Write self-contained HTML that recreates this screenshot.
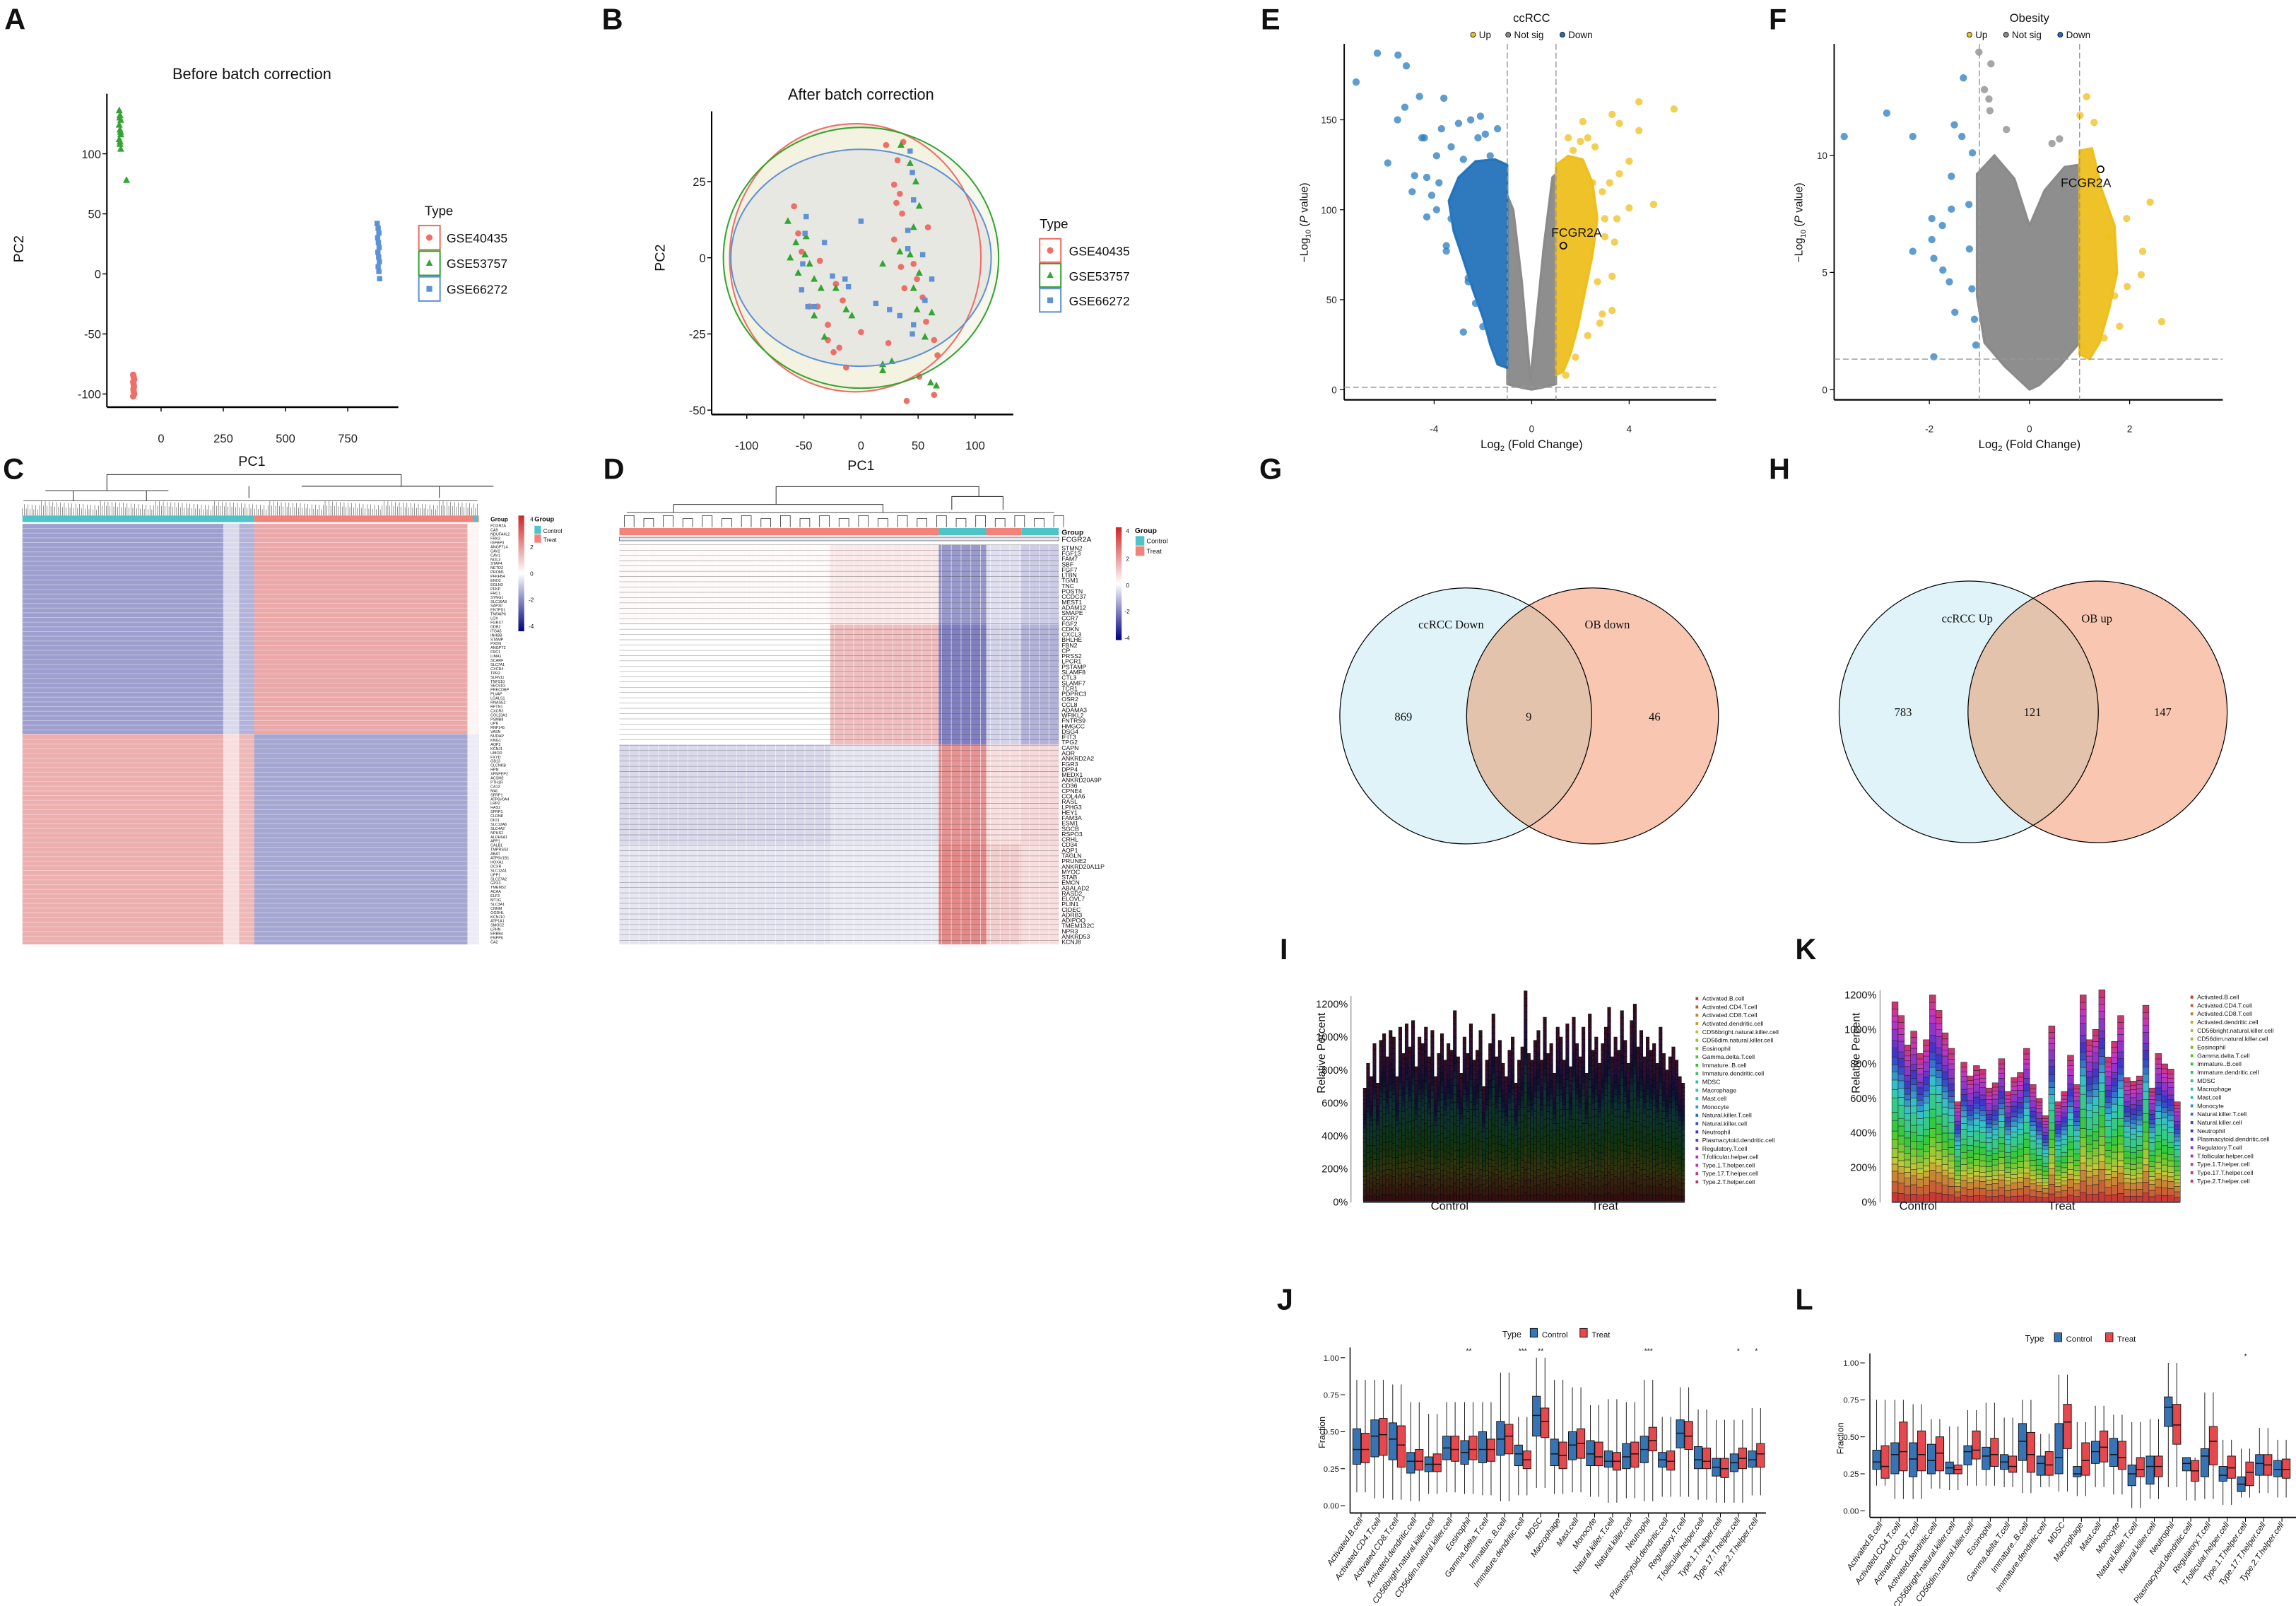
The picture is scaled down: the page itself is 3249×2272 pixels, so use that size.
<!DOCTYPE html>
<html><head><meta charset="utf-8"><title>Multi-panel figure</title>
<style>
html,body{margin:0;padding:0;background:#fff;}
svg{display:block;}
text{font-family:"Liberation Sans Narrow","Liberation Sans",sans-serif;fill:#111;}
.pl{font-weight:bold;font-size:20px;}
.tk{font-size:8px;fill:#222;}
.sm{font-size:6.5px;fill:#222;}
.vn{font-family:"Liberation Serif",serif;font-size:8px;}
</style></head>
<body>
<svg id="fig" xmlns="http://www.w3.org/2000/svg" width="3249" height="2272" viewBox="0 0 1568 1096.5">
<rect x="0" y="0" width="1568" height="1096.5" fill="#fff"/>
<defs>
 <linearGradient id="cbar" x1="0" y1="0" x2="0" y2="1"><stop offset="0" stop-color="#cd2626"/><stop offset="0.5" stop-color="#ffffff"/><stop offset="1" stop-color="#000080"/></linearGradient>
 <clipPath id="clipG"><ellipse cx="1001" cy="488.8" rx="86" ry="87.4"/></clipPath>
 <clipPath id="clipH"><ellipse cx="1344.5" cy="486" rx="88.5" ry="89.3"/></clipPath>
</defs>

<text class="pl" x="3" y="20">A</text>
<text class="pl" x="411" y="20">B</text>
<text class="pl" x="2" y="327">C</text>
<text class="pl" x="412" y="327">D</text>
<text class="pl" x="861" y="20">E</text>
<text class="pl" x="1208" y="20">F</text>
<text class="pl" x="860" y="327">G</text>
<text class="pl" x="1208" y="327">H</text>
<text class="pl" x="874" y="655">I</text>
<text class="pl" x="1226" y="655">K</text>
<text class="pl" x="872" y="894">J</text>
<text class="pl" x="1226" y="894">L</text>

<g id="pA">
 <text x="172" y="54" font-size="10.5" text-anchor="middle">Before batch correction</text>
 <line x1="73" y1="64" x2="73" y2="278" stroke="#000" stroke-width="1"/>
 <line x1="73" y1="278" x2="272" y2="278" stroke="#000" stroke-width="1.2"/>
 <text x="172" y="318" font-size="9.5" text-anchor="middle">PC1</text>
 <text transform="translate(16,170) rotate(-90)" font-size="9.5" text-anchor="middle">PC2</text>
 <text x="290" y="147" font-size="9">Type</text>
</g>
<g id="pB">
 <text x="588" y="68" font-size="10.5" text-anchor="middle">After batch correction</text>
 <line x1="486" y1="76" x2="486" y2="283" stroke="#000" stroke-width="1"/>
 <line x1="486" y1="283" x2="692" y2="283" stroke="#000" stroke-width="1.2"/>
 <text x="588" y="321" font-size="9.5" text-anchor="middle">PC1</text>
 <text transform="translate(454,176) rotate(-90)" font-size="9.5" text-anchor="middle">PC2</text>
 <text x="710" y="156" font-size="9">Type</text>
</g>

<g id="pC">
 <rect x="354" y="352" width="4" height="79" fill="url(#cbar)"/>
 <text x="362" y="356" font-size="4">4</text>
 <text x="362" y="375" font-size="4">2</text>
 <text x="362" y="393" font-size="4">0</text>
 <text x="361" y="411" font-size="4">-2</text>
 <text x="361" y="429" font-size="4">-4</text>
 <text x="365" y="356" font-size="4.5" font-weight="bold">Group</text>
 <rect x="365" y="359" width="4.5" height="5.5" fill="#4fc3c8"/>
 <rect x="365" y="365" width="4.5" height="5.5" fill="#f2837b"/>
 <text x="371" y="364" font-size="4">Control</text>
 <text x="371" y="370" font-size="4">Treat</text>
 <text x="335" y="356" font-size="4" font-weight="bold">Group</text>
</g>
<g id="pD">
 <rect x="762" y="360" width="4" height="77" fill="url(#cbar)"/>
 <text x="769" y="364" font-size="4">4</text>
 <text x="769" y="383" font-size="4">2</text>
 <text x="769" y="401" font-size="4">0</text>
 <text x="768" y="419" font-size="4">-2</text>
 <text x="768" y="437" font-size="4">-4</text>
 <text x="775" y="364" font-size="5" font-weight="bold">Group</text>
 <rect x="775.5" y="366" width="6" height="6.5" fill="#4fc3c8"/>
 <rect x="775.5" y="373" width="6" height="6.5" fill="#f2837b"/>
 <text x="783" y="371" font-size="4.5">Control</text>
 <text x="783" y="378" font-size="4.5">Treat</text>
 <text x="725" y="365" font-size="5" font-weight="bold">Group</text>
</g>

<g id="pE">
 <text x="1046" y="15" font-size="8" text-anchor="middle">ccRCC</text>
 <line x1="918" y1="30" x2="918" y2="273" stroke="#000" stroke-width="0.9"/>
 <line x1="918" y1="273" x2="1172" y2="273" stroke="#000" stroke-width="1.1"/>
 <text x="1046" y="306" font-size="8" text-anchor="middle">Log<tspan font-size="5.5" dy="2">2</tspan><tspan dy="-2"> (Fold Change)</tspan></text>
 <text transform="translate(893,152) rotate(-90)" font-size="7.5" text-anchor="middle" font-family="Liberation Sans">−Log<tspan font-size="5" dy="2">10</tspan><tspan dy="-2"> (</tspan><tspan font-style="italic">P</tspan> value)</text>
</g>
<g id="pF">
 <text x="1386" y="15" font-size="8" text-anchor="middle">Obesity</text>
 <line x1="1252.6" y1="30" x2="1252.6" y2="273" stroke="#000" stroke-width="0.9"/>
 <line x1="1252.6" y1="273" x2="1518" y2="273" stroke="#000" stroke-width="1.1"/>
 <text x="1386" y="306" font-size="8" text-anchor="middle">Log<tspan font-size="5.5" dy="2">2</tspan><tspan dy="-2"> (Fold Change)</tspan></text>
 <text transform="translate(1231,152) rotate(-90)" font-size="7.5" text-anchor="middle" font-family="Liberation Sans">−Log<tspan font-size="5" dy="2">10</tspan><tspan dy="-2"> (</tspan><tspan font-style="italic">P</tspan> value)</text>
</g>

<g id="pG">
 <ellipse cx="1001" cy="488.8" rx="86" ry="87.4" fill="#dff3f9"/>
 <ellipse cx="1087.6" cy="488.8" rx="86" ry="87.4" fill="#f9c7b1"/>
 <ellipse cx="1087.6" cy="488.8" rx="86" ry="87.4" fill="#e4c3ad" clip-path="url(#clipG)"/>
 <ellipse cx="1001" cy="488.8" rx="86" ry="87.4" fill="none" stroke="#000" stroke-width="0.6"/>
 <ellipse cx="1087.6" cy="488.8" rx="86" ry="87.4" fill="none" stroke="#000" stroke-width="0.6"/>
 <text class="vn" x="991" y="429" text-anchor="middle">ccRCC Down</text>
 <text class="vn" x="1097.7" y="429" text-anchor="middle">OB down</text>
 <text class="vn" x="958.4" y="492" text-anchor="middle">869</text>
 <text class="vn" x="1044" y="492" text-anchor="middle">9</text>
 <text class="vn" x="1130" y="492" text-anchor="middle">46</text>
</g>
<g id="pH">
 <ellipse cx="1344.5" cy="486" rx="88.5" ry="89.3" fill="#dff3f9"/>
 <ellipse cx="1432.5" cy="486" rx="88.5" ry="89.3" fill="#f9c7b1"/>
 <ellipse cx="1432.5" cy="486" rx="88.5" ry="89.3" fill="#e4c3ad" clip-path="url(#clipH)"/>
 <ellipse cx="1344.5" cy="486" rx="88.5" ry="89.3" fill="none" stroke="#000" stroke-width="0.6"/>
 <ellipse cx="1432.5" cy="486" rx="88.5" ry="89.3" fill="none" stroke="#000" stroke-width="0.6"/>
 <text class="vn" x="1343.5" y="425" text-anchor="middle">ccRCC Up</text>
 <text class="vn" x="1432" y="425" text-anchor="middle">OB up</text>
 <text class="vn" x="1299.7" y="489" text-anchor="middle">783</text>
 <text class="vn" x="1388" y="489" text-anchor="middle">121</text>
 <text class="vn" x="1477" y="489" text-anchor="middle">147</text>
</g>

<g id="pI">
 <line x1="922.6" y1="680" x2="922.6" y2="821" stroke="#aaa" stroke-width="0.8"/>
 <text transform="translate(905,719) rotate(-90)" font-size="7.5" font-family="Liberation Sans" text-anchor="middle">Relative Percent</text>
</g>
<g id="pK">
 <line x1="1284" y1="676" x2="1284" y2="821" stroke="#aaa" stroke-width="0.8"/>
 <text transform="translate(1270,719) rotate(-90)" font-size="7.5" font-family="Liberation Sans" text-anchor="middle">Relative Percent</text>
</g>
<g id="pJ">
 <line x1="922" y1="920" x2="922" y2="1033" stroke="#000" stroke-width="0.7"/>
 <line x1="922" y1="1033" x2="1206" y2="1033" stroke="#000" stroke-width="0.9"/>
 <text transform="translate(905,978) rotate(-90)" font-size="6" font-family="Liberation Sans" text-anchor="middle">Fraction</text>
 <text x="1026" y="913" font-size="6">Type</text>
 <rect x="1045" y="907" width="5" height="6" fill="#3674b5" stroke="#000" stroke-width="0.4"/>
 <text x="1053" y="913" font-size="5.5">Control</text>
 <rect x="1079" y="907" width="5" height="6" fill="#e5484d" stroke="#000" stroke-width="0.4"/>
 <text x="1087" y="913" font-size="5.5">Treat</text>
</g>
<g id="pL">
 <line x1="1277" y1="924" x2="1277" y2="1036" stroke="#000" stroke-width="0.7"/>
 <line x1="1277" y1="1036" x2="1568" y2="1036" stroke="#000" stroke-width="0.9"/>
 <text transform="translate(1259,982) rotate(-90)" font-size="6" font-family="Liberation Sans" text-anchor="middle">Fraction</text>
 <text x="1383" y="916" font-size="6">Type</text>
 <rect x="1403" y="910" width="5" height="6" fill="#3674b5" stroke="#000" stroke-width="0.4"/>
 <text x="1411" y="916" font-size="5.5">Control</text>
 <rect x="1438" y="910" width="5" height="6" fill="#e5484d" stroke="#000" stroke-width="0.4"/>
 <text x="1446" y="916" font-size="5.5">Treat</text>
</g>
</svg>

<script>
// ---------- DATA ----------
const pcaA_gse40435_x=[-112,-110,-108,-112,-110,-109,-111,-110,-108,-112];
const pcaA_gse40435_y=[-84,-86,-88,-90,-92,-94,-96,-98,-100,-102];
const pcaA_gse53757_x=[-168,-165,-162,-168,-165,-162,-168,-165,-162,-166,-163,-165,-139];
const pcaA_gse53757_y=[136,132,128,124,120,116,112,108,104,130,118,110,78];
const pcaA_gse66272_x=[868,872,875,870,873,876,871,874,877,872,875,878];
const pcaA_gse66272_y=[42,38,34,30,26,22,18,14,10,6,2,-4];
const pcaB_gse40435_x=[-58.6,22,37,32,29,34,31,36,58.6,29,35,38,54,57,64,67,51,64,40,-13,-24,-19,0,-29,-38,-16,-22,-36,-55,24,-29,-45,-52,46,49];
const pcaB_gse40435_y=[16.9,37,38,32,24,21,18,14.5,10,6,-3,-10,-13,-21,-27,-32,-39,-45,-47,-36,-31,-29.5,-24.4,-22,-16,-14,-8.6,-1,8,-28,-27,-16,2,-2,-7];
const pcaB_gse53757_x=[-64,-57,-49,-45,-41,-35,-41,-32,-13,-8,19,34,35,43,48,51,46,43,51,46,49,62,56,19,27,19,66,61,-22,-55,-62,-48];
const pcaB_gse53757_y=[12,5,1,-2,-7,-10,-19,-26,-17,-19,-2,2,37,31,25,17,10,1,-5,-10,-17,-18,-26,-35,-34,-37,-42,-41,-10,-5,0,7];
const pcaB_gse66272_x=[-48,-49,-51,-52,-46.5,-32,-25,-14,-11,0,13,34,46,56,62,43,45,46,41,54,41,25,45,-41];
const pcaB_gse66272_y=[13.5,8,-2,-10.5,-16,5,-6,-7,-9.5,12,-15,-19,-22,-14,-7,35,28,19,9,1,3,-17,-25,-16];
const ellipseB_cx=[-5,0,0];
const ellipseB_rx=[110,120.5,114];
const ellipseB_ry=[44,42.8,35.6];
const heatC_rowBreaks=[0,0.5,1];
const heatC_colBreaks=[0,0.44,0.475,0.508,0.975,1];
const heatC_values=[[-1.5,-0.6,-1.2,1.6,0.2],[1.5,0.6,1.3,-1.4,-0.3]];
const heatD_rowBreaks=[0,0.2,0.5,0.75,1];
const heatD_colBreaks=[0,0.48,0.727,0.835,0.915,1];
const heatD_values=[[0.1,0.4,-1.6,-0.5,-0.8],[0.0,1.2,-2.0,-0.7,-1.2],[-0.6,-0.4,2.0,0.6,0.7],[-0.4,-0.3,2.2,0.9,0.6]];
const heatD_groups=['Treat','Control','Treat','Control'];
const volE_down_x=[-6.33,-5.48,-5.14,-7.2,-4.6,-3.6,-5.2,-5.9,-2.8,-4.9,-4.3,-3.5,-5.5,-4.8,-2.1,-1.4,-4.4,-3.9,-3.2,-2.6,-3.8,-4.1,-3.9,-3.3,-3.0,-4.3,-4.5,-3.7,-3.0,-2.5,-2.2,-3.3,-2.8,-3.5,-2.6,-2.3,-2.0,-1.7,-1.9];
const volE_down_y=[187,186,180,171,163,162,157,126,32,110,96,77,150,119,152,145,140,130,100,60,115,108,100,95,90,118,140,145,148,150,140,135,128,80,62,48,35,130,142];
const volE_up_x=[4.4,5.84,3.3,3.6,4.4,2.1,5.0,4.0,4.0,3.4,3.3,3.3,2.8,1.5,2.9,2.5,3.0,2.9,3.2,2.6,2.3,2.0,3.6,3.0,2.7,2.3,1.8,1.4,3.5,1.7];
const volE_up_y=[160,156,153,148,144,149,103,101,127,82,63,44,37,140,42,115,95,110,115,135,140,138,120,85,60,30,18,8,95,133];
const volE_grey=[[-1,108],[-0.75,100],[-0.4,60],[-0.05,6],[0.2,40],[0.5,80],[0.85,118],[1,120],[1,3],[0.4,1],[0,0],[-0.4,1],[-1,3]];
const volE_downArea=[[-1,12],[-1,125],[-1.5,128],[-2.3,127],[-3,118],[-3.4,105],[-3.2,88],[-2.8,72],[-2.4,55],[-2,40],[-1.7,25],[-1.4,14]];
const volE_upArea=[[1,8],[1,125],[1.5,130],[2.1,128],[2.5,115],[2.7,95],[2.5,75],[2.2,55],[1.9,35],[1.6,20],[1.3,10]];
const volE_gene=[1.3,80];
const volF_down_x=[-3.7,-2.85,-2.33,-1.32,-1.5,-1.35,-1.56,-1.56,-1.95,-1.74,-1.95,-2.33,-1.91,-1.73,-1.6,-1.49,-1.91,-1.14,-1.21,-1.15,-1.07,-1.2,-1.1];
const volF_down_y=[10.8,11.8,10.8,13.3,11.3,10.8,9.1,7.7,7.3,7.0,6.4,5.9,5.6,5.1,4.6,3.3,1.4,10.1,7.9,4.3,1.9,6.0,3.0];
const volF_up_x=[1.14,1.01,1.29,2.41,2.64,1.94,2.26,2.23,1.95,1.8,1.49,1.07,1.6,1.7,1.35];
const volF_up_y=[12.5,11.7,11.4,8.0,2.9,7.3,5.9,4.9,4.4,2.7,2.2,1.8,6.5,4.0,9.0];
const volF_ns_x=[-1.01,-0.77,-0.81,-0.79,-0.46,0.45,-0.9,0.6];
const volF_ns_y=[14.4,13.9,12.4,11.9,11.1,10.5,12.8,10.7];
const volF_grey=[[0,0],[-0.5,1],[-0.9,2],[-1.05,4],[-1.05,9.2],[-0.7,10],[-0.3,9],[0,7],[0.3,8.5],[0.7,9.5],[1,9.6],[1,2],[0.6,1],[0.2,0.2]];
const volF_upArea=[[1,1.5],[1,10.2],[1.25,10.3],[1.45,8.5],[1.7,7],[1.75,5],[1.6,3.5],[1.4,2],[1.2,1.3]];
const volF_gene=[1.42,9.4];
const cellTypes=['Activated.B.cell','Activated.CD4.T.cell','Activated.CD8.T.cell','Activated.dendritic.cell','CD56bright.natural.killer.cell','CD56dim.natural.killer.cell','Eosinophil','Gamma.delta.T.cell','Immature..B.cell','Immature.dendritic.cell','MDSC','Macrophage','Mast.cell','Monocyte','Natural.killer.T.cell','Natural.killer.cell','Neutrophil','Plasmacytoid.dendritic.cell','Regulatory.T.cell','T.follicular.helper.cell','Type.1.T.helper.cell','Type.17.T.helper.cell','Type.2.T.helper.cell'];
const cellWeights=[0.38,0.47,0.45,0.30,0.28,0.39,0.36,0.38,0.45,0.35,0.61,0.35,0.41,0.35,0.30,0.33,0.38,0.31,0.49,0.31,0.26,0.29,0.31];
const totalsI=[690,840,760,960,720,980,1020,880,1040,1000,760,1060,900,1080,940,1100,820,1000,960,1060,880,1040,760,900,1020,860,960,920,1160,880,780,1000,900,1080,860,920,1040,700,860,960,1140,880,980,840,760,920,1000,720,860,940,1280,900,860,980,1040,860,1120,900,960,780,1060,1000,860,1080,820,1120,960,880,1060,780,1140,920,1000,840,960,1060,1180,880,1000,920,1160,980,840,1100,1200,940,1040,880,1000,920,960,840,1060,900,800,880,940,860,760,720];
const totalsK=[1160,1080,910,990,860,940,1200,1110,980,890,580,810,730,790,770,660,690,830,640,720,750,890,680,600,500,1020,580,640,850,680,1200,940,1000,1230,840,930,1080,720,700,730,1140,660,860,800,770,580];
const boxJ_ctrl_q1=[.28,.33,.31,.22,.23,.31,.28,.29,.34,.27,.47,.27,.31,.27,.26,.25,.29,.26,.39,.25,.20,.23,.26];
const boxJ_ctrl_med=[.38,.47,.45,.30,.28,.39,.36,.38,.45,.35,.61,.35,.41,.35,.30,.33,.38,.31,.49,.31,.26,.29,.31];
const boxJ_ctrl_q3=[.52,.58,.56,.36,.33,.47,.44,.50,.57,.41,.74,.45,.50,.44,.37,.42,.47,.36,.58,.40,.32,.35,.37];
const boxJ_treat_q1=[.29,.34,.26,.24,.23,.30,.31,.30,.35,.25,.46,.25,.32,.27,.24,.26,.37,.24,.38,.25,.19,.25,.26];
const boxJ_treat_med=[.38,.48,.41,.30,.28,.38,.38,.38,.47,.31,.57,.34,.42,.33,.30,.35,.44,.30,.47,.30,.25,.32,.35];
const boxJ_treat_q3=[.49,.59,.54,.38,.35,.47,.47,.45,.55,.37,.66,.43,.52,.43,.36,.43,.53,.37,.57,.39,.32,.39,.42];
const boxJ_lo=[.09,.05,.04,.03,.08,.09,.08,.07,.03,.07,.12,.08,.09,.06,.02,.05,.03,.06,.06,.04,.02,.02,.07];
const boxJ_hi=[.85,.85,.82,.70,.62,.70,.70,.70,.90,.60,1.0,.85,.80,.68,.72,.70,.85,.60,.80,.65,.58,.58,.66];
const boxJ_stars=['','','','','','','**','','','***','**','','','','','','***','','','','','*','*'];
const boxL_ctrl_q1=[.28,.25,.23,.25,.25,.31,.28,.28,.34,.24,.25,.23,.32,.30,.17,.18,.57,.27,.23,.20,.13,.24,.23];
const boxL_ctrl_med=[.33,.38,.35,.34,.29,.40,.37,.33,.47,.32,.36,.25,.40,.38,.25,.30,.70,.32,.37,.24,.18,.32,.28];
const boxL_ctrl_q3=[.41,.46,.46,.45,.33,.44,.43,.38,.59,.37,.59,.30,.47,.49,.31,.37,.77,.36,.42,.30,.23,.38,.34];
const boxL_treat_q1=[.22,.27,.27,.27,.25,.35,.30,.26,.26,.24,.42,.24,.33,.28,.23,.23,.45,.20,.31,.22,.17,.24,.22];
const boxL_treat_med=[.30,.40,.38,.39,.28,.41,.38,.30,.38,.31,.60,.34,.43,.36,.28,.30,.58,.27,.47,.29,.26,.31,.28];
const boxL_treat_q3=[.44,.60,.54,.50,.31,.54,.49,.37,.53,.40,.72,.46,.54,.47,.36,.37,.72,.34,.57,.37,.33,.38,.35];
const boxL_lo=[.17,.08,.08,.15,.14,.17,.17,.16,.12,.16,.13,.10,.16,.11,.02,.08,.16,.07,.08,.04,.09,.12,.09];
const boxL_hi=[.75,.75,.72,.62,.57,.68,.73,.63,.75,.52,.92,.60,.71,.65,.60,.62,1.0,.36,.80,.48,.42,.56,.48];
const boxL_stars=['','','','','','','','','','','','','','','','','','','','','*','',''];
const genesC=['FCGR2A','CA9','NDUFA4L2','FRK3','IGFBP3','ANGPTL4','CAV2','CAV1','NOL3','STAP4','NETO2','PROM1','PFKFB4','ENO2','EGLN3','PFKP','FRC1','SYNG1','SLC16A3','SAP30','ENTPD1','TNFAIP6','LOX','FGRX7','DDB2','ITGA5','INHBB','STAMP','PXDN','ANGPT2','FRC1','LIMA1','SCARF','SLC7A1','CXCR4','TPR2','SLFN11','TNFS10','SEC61G','PRKCDBP','PLVAP','LGALS1','RNASE2','RFTN1','CXCR3','COL23A1','PSMB8','UPK','RNF145','VASN','NUDAP','KNG1','AQP2','KCNJ1','UMOD','FXYD','GB13','CLCNKB','HPN','XPNPEP2','ACSM2','PTH1R','CA12','MAL','SFRP1','ATP6V0A4','LRP2','HAS2','SFRP1','CLDN8','DIO1','SLC12A6','SLC4A2','NPHS2','ALDH6A1','APP1','CALB1','TMPRSS2','ABAT','ATP6V1B1','HOXA1','DCXR','SLC12A1','UPP1','SLC27A2','GPX3','TMEM52','ACAA','ELF3','MT1G','SLC3A1','CNNM','OGDHL','KCNJ10','ATP1A1','SMOC2','LPHN','ERBB4','ENPP6','CA2'];
const genesD=['FCGR2A','STMN2','FGF13','FAM7','SBF','FGF7','LTBN','TGM1','TNC','POSTN','CCDC37','MEST1','ADAM12','SMAPE','CCR7','FGF2','CDKN','CXCL3','BHLHE','FBN2','CP','PRSS2','LPCR1','PSTAMP','SLAMF8','CTL3','SLAMF7','TCR1','PDPRC3','OSR2','CCL8','ADAMA3','WFIKL2','FNTRS9','HMGCC','DSG4','IFIT3','TPG2','CAPN','AOR','ANKRD2A2','FGR3','DPP4','MEDX1','ANKRD20A9P','CD36','CPNE4','COL4A6','RASL','LPHG3','HEY1','FAM3A','ESM1','SGCB','RSPO3','CRHL','CD34','AQP1','TAGLN','PRUNE2','ANKRD20A11P','MYOC','STAB','EMCN','ABALAD2','RASD2','ELOVL7','PLIN1','CIDEC','ADRB3','ADIPOQ','TMEM132C','NPR3','ANKRD53','KCNJ8'];

const NS='http://www.w3.org/2000/svg';
function mk(tag,attrs,parent){const e=document.createElementNS(NS,tag);for(const k in attrs)e.setAttribute(k,attrs[k]);parent.appendChild(e);return e;}
function G(id){return document.getElementById(id);}
function marker(g,shape,cx,cy,s,color,op){
  let e;
  if(shape==='circle'){e=mk('circle',{cx:cx,cy:cy,r:s,fill:color,'fill-opacity':op},g);}
  else if(shape==='tri'){e=mk('polygon',{points:(cx)+','+(cy-s*1.2)+' '+(cx-s*1.05)+','+(cy+s*0.8)+' '+(cx+s*1.05)+','+(cy+s*0.8),fill:color,'fill-opacity':op},g);}
  else {e=mk('rect',{x:cx-s*0.9,y:cy-s*0.9,width:s*1.8,height:s*1.8,fill:color,'fill-opacity':op},g);}
  return e;
}
function lerp(a,b,t){return Math.round(a+(b-a)*t);}
function hmColor(v){
  let t=Math.max(-1,Math.min(1,v/4));
  if(t<0){t=-t;return 'rgb('+lerp(255,0,t)+','+lerp(255,0,t)+','+lerp(255,128,t)+')';}
  return 'rgb('+lerp(255,205,t)+','+lerp(255,38,t)+','+lerp(255,38,t)+')';
}
const RED='#ee6f68',GRN='#33a532',BLU='#5f92d4';
const COL_CTRL='#4fc3c8',COL_TREAT='#f2837b';

(function(){
  const g=G('pA');
  const xA=v=>110+v*0.17, yA=v=>187-v*0.82;
  [[100,'100'],[50,'50'],[0,'0'],[-50,'-50'],[-100,'-100']].forEach(t=>{
    const l=mk('line',{x1:70,x2:73,y1:yA(t[0]),y2:yA(t[0]),stroke:'#000','stroke-width':0.7},g);
    
    
    const tx=mk('text',{x:69,y:yA(t[0])+3,'text-anchor':'end',class:'tk'},g);tx.textContent=t[1];
    
    
  });
  [[0,'0'],[250,'250'],[500,'500'],[750,'750']].forEach(t=>{
    const l=mk('line',{x1:xA(t[0]),x2:xA(t[0]),y1:278,y2:281,stroke:'#000','stroke-width':0.7},g);
    
    
    const tx=mk('text',{x:xA(t[0]),y:302,'text-anchor':'middle',class:'tk'},g);tx.textContent=t[1];
    
    
  });
  pcaA_gse40435_x.forEach((v,i)=>{const m=marker(g,'circle',xA(v),yA(pcaA_gse40435_y[i]),2.2,RED,1);
    
    });
  pcaA_gse53757_x.forEach((v,i)=>{const m=marker(g,'tri',xA(v),yA(pcaA_gse53757_y[i]),2.3,GRN,1);
    
    });
  pcaA_gse66272_x.forEach((v,i)=>{const m=marker(g,'sq',xA(v),yA(pcaA_gse66272_y[i]),2,BLU,1);
    
    });
  const names=['GSE40435','GSE53757','GSE66272'],cols=[RED,GRN,BLU],shp=['circle','tri','sq'];
  [154,171.5,189].forEach((y,i)=>{
    const r=mk('rect',{x:286,y:y,width:14.5,height:16.5,fill:'#fff',stroke:cols[i],'stroke-width':1},g);
    
    
    marker(g,shp[i],293.2,y+8.2,2.2,cols[i],1);
    const t=mk('text',{x:305,y:y+11.5,'font-size':8.5},g);t.textContent=names[i];
    
    
  });
})();

(function(){
  const g=G('pB');
  const xB=v=>588+v*0.78, yB=v=>176-v*2.08;
  const fills=['#f6f2dd','#f3f2e2','#e8e8e3'],strokes=[RED,GRN,BLU];
  ellipseB_cx.forEach((c,i)=>{
    const e=mk('ellipse',{cx:xB(c),cy:yB(0),rx:ellipseB_rx[i]*0.78,ry:ellipseB_ry[i]*2.08,fill:fills[i],'fill-opacity':i===1?0.6:1},g);
    
    
  });
  pcaB_gse40435_x.forEach((v,i)=>{const m=marker(g,'circle',xB(v),yB(pcaB_gse40435_y[i]),2.1,RED,1);
    
    });
  pcaB_gse53757_x.forEach((v,i)=>{const m=marker(g,'tri',xB(v),yB(pcaB_gse53757_y[i]),2.3,GRN,1);
    
    });
  pcaB_gse66272_x.forEach((v,i)=>{const m=marker(g,'sq',xB(v),yB(pcaB_gse66272_y[i]),2,BLU,1);
    
    });
  ellipseB_cx.forEach((c,i)=>{
    const e=mk('ellipse',{cx:xB(c),cy:yB(0),rx:ellipseB_rx[i]*0.78,ry:ellipseB_ry[i]*2.08,fill:'none',stroke:strokes[i],'stroke-width':1},g);
    
    
  });
  [[25,'25'],[0,'0'],[-25,'-25'],[-50,'-50']].forEach(t=>{
    const l=mk('line',{x1:483,x2:486,y1:yB(t[0]),y2:yB(t[0]),stroke:'#000','stroke-width':0.7},g);
    
    
    const tx=mk('text',{x:482,y:yB(t[0])+3,'text-anchor':'end',class:'tk'},g);tx.textContent=t[1];
    
    
  });
  [[-100,'-100'],[-50,'-50'],[0,'0'],[50,'50'],[100,'100']].forEach(t=>{
    const l=mk('line',{x1:xB(t[0]),x2:xB(t[0]),y1:283,y2:286,stroke:'#000','stroke-width':0.7},g);
    
    
    const tx=mk('text',{x:xB(t[0]),y:307,'text-anchor':'middle',class:'tk'},g);tx.textContent=t[1];
    
    
  });
  const names=['GSE40435','GSE53757','GSE66272'],shp=['circle','tri','sq'];
  [163,180,197].forEach((y,i)=>{
    const r=mk('rect',{x:710,y:y,width:14.5,height:16,fill:'#fff',stroke:strokes[i],'stroke-width':1},g);
    
    
    marker(g,shp[i],717.2,y+8,2.2,strokes[i],1);
    const t=mk('text',{x:730,y:y+11.5,'font-size':8.5},g);t.textContent=names[i];
    
    
  });
})();

function drawHeat(g,x0,x1,y0,y1,rowB,colB,vals,name){
  for(let r=0;r<vals.length;r++)for(let c=0;c<vals[r].length;c++){
    const rx=x0+(x1-x0)*colB[c], rw=(x1-x0)*(colB[c+1]-colB[c]);
    const ry=y0+(y1-y0)*rowB[r], rh=(y1-y0)*(rowB[r+1]-rowB[r]);
    const e=mk('rect',{x:rx,y:ry,width:rw+0.2,height:rh+0.2,fill:hmColor(vals[r][c])},g);
    
    
  }
}
(function(){
  const g=G('pC');
  const x0=15.3,x1=327,y0=357.6,y1=644.6;
  drawHeat(g,x0,x1,y0,y1,heatC_rowBreaks,heatC_colBreaks,heatC_values,'heatmap-c-cell');
  for(let y=y0;y<y1;y+=3.2){const l=mk('line',{x1:x0,x2:x1,y1:y,y2:y,stroke:'#fff','stroke-width':0.5,'stroke-opacity':0.35},g);
    
    }
  const split=x0+(x1-x0)*0.508;
  let a=mk('rect',{x:x0,y:352,width:split-x0,height:4.5,fill:COL_CTRL},g);
  
  
  a=mk('rect',{x:split,y:352,width:x1-split,height:4.5,fill:COL_TREAT},g);
  
  
  a=mk('rect',{x:x1-4,y:352,width:3,height:4.5,fill:COL_CTRL},g);
  
  
  const d=mk('path',{d:'M73,335 V324 H274 V332 M31,335 H115 M206,332 H337 M50,335 V342 M100,335 V342 M170,332 V340 M300,332 V340',fill:'none',stroke:'#333','stroke-width':0.5},g);
  
  
  for(let x=x0;x<x1;x+=1.3){const h=342+((x*7)%6);const l=mk('line',{x1:x,x2:x,y1:h,y2:352,stroke:'#333','stroke-width':0.25},g);
    
    }
  const dl=mk('path',{d:'M16,342 H326',stroke:'#333','stroke-width':0.4},g);
  
  
  const step=(y1-y0)/genesC.length;
  genesC.forEach((n,i)=>{const t=mk('text',{x:335,y:y0+step*(i+0.8),'font-size':2.6},g);t.textContent=n;
    
    });
})();
(function(){
  const g=G('pD');
  const x0=423,x1=723,y0=372,y1=644.6;
  drawHeat(g,x0,x1,y0,y1,heatD_rowBreaks,heatD_colBreaks,heatD_values,'heatmap-d-cell');
  const nc=45;
  for(let i=1;i<nc;i++){const x=x0+(x1-x0)*i/nc;const l=mk('line',{x1:x,x2:x,y1:y0,y2:y1,stroke:'#fff','stroke-width':0.4,'stroke-opacity':0.7},g);
    
    }
  for(let y=y0;y<y1;y+=3.6){const l=mk('line',{x1:x0,x2:x1,y1:y,y2:y,stroke:'#444','stroke-width':0.25,'stroke-opacity':0.6},g);
    
    }
  const ab=[0,0.727,0.835,0.915,1];
  for(let i=0;i<4;i++){
    const a=mk('rect',{x:x0+(x1-x0)*ab[i],y:360.5,width:(x1-x0)*(ab[i+1]-ab[i]),height:5,fill:heatD_groups[i]==='Treat'?COL_TREAT:COL_CTRL},g);
    
    
  }
  const fr=mk('rect',{x:x0,y:366.8,width:x1-x0,height:2.4,fill:'#e8e8f4',stroke:'#333','stroke-width':0.3},g);
  
  
  const d=mk('path',{d:'M530,344.4 V332.2 H668.5 V339 M460,350 V344.4 H603 V350 M650,348 V339 H685 V348',fill:'none',stroke:'#333','stroke-width':0.5},g);
  
  
  for(let i=0;i<nc;i+=2){const xa=x0+(x1-x0)*(i+0.5)/nc, xb=x0+(x1-x0)*(i+1.5)/nc;const h=352+(i%4);
    const p=mk('path',{d:'M'+xa+',360 V'+h+' H'+xb+' V360',fill:'none',stroke:'#333','stroke-width':0.4},g);
    
    }
  const dl=mk('path',{d:'M428,350 H720',stroke:'#333','stroke-width':0.4},g);
  
  
  const t0=mk('text',{x:725,y:370,'font-size':5},g);t0.textContent='FCGR2A';
  
  
  const step=(y1-y0)/(genesD.length-1);
  genesD.slice(1).forEach((n,i)=>{const t=mk('text',{x:725,y:y0+step*(i+1),'font-size':4.2},g);t.textContent=n;
    
    });
})();

function volcano(g,xs,ys,cfg){
  const ns=cfg;
  const poly=(arr,col,op,name)=>{const p=mk('polygon',{points:arr.map(q=>xs(q[0])+','+ys(q[1])).join(' '),fill:col,'fill-opacity':op,stroke:col,'stroke-width':1.5,'stroke-opacity':op,'stroke-linejoin':'round'},g);
    
    };
  poly(ns.grey,'#888888',0.95,'not-sig-density');
  if(ns.downArea)poly(ns.downArea,'#1d6fb8',0.92,'down-density');
  poly(ns.upArea,'#eebd17',0.92,'up-density');
  const pts=(X,Y,col,name)=>X.forEach((v,i)=>{const c=mk('circle',{cx:xs(v),cy:ys(Y[i]),r:2.5,fill:col,'fill-opacity':0.75},g);
    
    });
  if(ns.nsx)pts(ns.nsx,ns.nsy,'#888888','not-sig-point');
  pts(ns.dx,ns.dy,'#2a7cc0','down-point');
  pts(ns.ux,ns.uy,'#efbf1c','up-point');
}
function legendVol(g,xs,y){
  const cols=['#efbf1c','#888','#1d6fb8'],labs=['Up','Not sig','Down'];
  xs.forEach((x,i)=>{const c=mk('circle',{cx:x,cy:y-2.3,r:1.7,fill:cols[i],stroke:'#000','stroke-width':0.4},g);
    
    
    const t=mk('text',{x:x+4,y:y,'font-size':6.5},g);t.textContent=labs[i];
    
    });
}
(function(){
  const g=G('pE');
  const xs=v=>1046+v*16.65, ys=v=>266-v*1.228;
  volcano(g,xs,ys,{grey:volE_grey,downArea:volE_downArea,upArea:volE_upArea,dx:volE_down_x,dy:volE_down_y,ux:volE_up_x,uy:volE_up_y});
  [-1,1].forEach(v=>{const l=mk('line',{x1:xs(v),x2:xs(v),y1:30,y2:273,stroke:'#999','stroke-width':0.7,'stroke-dasharray':'4,2'},g);
    
    });
  const h=mk('line',{x1:918,x2:1172,y1:ys(1.3),y2:ys(1.3),stroke:'#999','stroke-width':0.7,'stroke-dasharray':'4,2'},g);
  
  
  [[0,'0'],[50,'50'],[100,'100'],[150,'150']].forEach(t=>{
    const l=mk('line',{x1:915,x2:918,y1:ys(t[0]),y2:ys(t[0]),stroke:'#000','stroke-width':0.6},g);
    
    
    const tx=mk('text',{x:913,y:ys(t[0])+2.5,'text-anchor':'end',class:'sm'},g);tx.textContent=t[1];
    
    });
  [[-4,'-4'],[0,'0'],[4,'4']].forEach(t=>{
    const l=mk('line',{x1:xs(t[0]),x2:xs(t[0]),y1:273,y2:276,stroke:'#000','stroke-width':0.6},g);
    
    
    const tx=mk('text',{x:xs(t[0]),y:295,'text-anchor':'middle',class:'sm'},g);tx.textContent=t[1];
    
    });
  const c=mk('circle',{cx:xs(volE_gene[0]),cy:ys(volE_gene[1]),r:2.2,fill:'none',stroke:'#000','stroke-width':0.8},g);
  
  
  const t=mk('text',{x:xs(volE_gene[0])+9,y:ys(volE_gene[1])-6,'font-size':8.5,'text-anchor':'middle'},g);t.textContent='FCGR2A';
  
  
  legendVol(g,[1006,1030,1067],26);
})();
(function(){
  const g=G('pF');
  const xs=v=>1386+v*34.2, ys=v=>266-v*16;
  volcano(g,xs,ys,{grey:volF_grey,downArea:null,upArea:volF_upArea,dx:volF_down_x,dy:volF_down_y,ux:volF_up_x,uy:volF_up_y,nsx:volF_ns_x,nsy:volF_ns_y});
  [-1,1].forEach(v=>{const l=mk('line',{x1:xs(v),x2:xs(v),y1:30,y2:273,stroke:'#999','stroke-width':0.7,'stroke-dasharray':'4,2'},g);
    
    });
  const h=mk('line',{x1:1252.6,x2:1518,y1:ys(1.3),y2:ys(1.3),stroke:'#999','stroke-width':0.7,'stroke-dasharray':'4,2'},g);
  
  
  [[0,'0'],[5,'5'],[10,'10']].forEach(t=>{
    const l=mk('line',{x1:1249.6,x2:1252.6,y1:ys(t[0]),y2:ys(t[0]),stroke:'#000','stroke-width':0.6},g);
    
    
    const tx=mk('text',{x:1248,y:ys(t[0])+2.5,'text-anchor':'end',class:'sm'},g);tx.textContent=t[1];
    
    });
  [[-2,'-2'],[0,'0'],[2,'2']].forEach(t=>{
    const l=mk('line',{x1:xs(t[0]),x2:xs(t[0]),y1:273,y2:276,stroke:'#000','stroke-width':0.6},g);
    
    
    const tx=mk('text',{x:xs(t[0]),y:295,'text-anchor':'middle',class:'sm'},g);tx.textContent=t[1];
    
    });
  const c=mk('circle',{cx:xs(volF_gene[0]),cy:ys(volF_gene[1]),r:2.2,fill:'none',stroke:'#000','stroke-width':0.8},g);
  
  
  const t=mk('text',{x:xs(volF_gene[0])-10,y:ys(volF_gene[1])+12,'font-size':8.5,'text-anchor':'middle'},g);t.textContent='FCGR2A';
  
  
  legendVol(g,[1345,1370,1407],26);
})();

function cellColor(i,l){const h=(2+i*15.2)%360;return 'hsl('+h+',58%,'+l+'%)';}
const wSum=cellWeights.reduce((a,b)=>a+b,0);
function stacked(g,totals,x0,x1,y0,per100,light,name,strokeCol){
  const bw=(x1-x0)/totals.length;
  totals.forEach((tot,j)=>{
    let cum=0;
    cellWeights.forEach((w,i)=>{
      const h=tot*w/wSum;
      const r=mk('rect',{x:x0+j*bw,y:y0-(cum+h)*per100/100,width:bw,height:h*per100/100,fill:cellColor(i,light),stroke:strokeCol,'stroke-width':0.25},g);
      
      
      cum+=h;
    });
  });
}
function pctAxis(g,ax,y0,per100,name){
  [0,200,400,600,800,1000,1200].forEach(v=>{
    const t=mk('text',{x:ax-1.5,y:y0-v*per100/100+2.5,'text-anchor':'end','font-size':7,'font-family':'Liberation Sans'},g);t.textContent=v+'%';
    
    
  });
}
function cellLegend(g,x,y0,step){
  cellTypes.forEach((n,i)=>{
    const r=mk('rect',{x:x-1,y:y0+i*step-2.2,width:1.8,height:2,fill:cellColor(i,48)},g);
    
    
    const t=mk('text',{x:x+3.5,y:y0+i*step+0.2,'font-size':4.2,'font-family':'Liberation Sans'},g);t.textContent=n;
    
    
  });
}
(function(){
  const g=G('pI');
  stacked(g,totalsI,931,1150.5,820.5,11.25,13,'stacked-segment-i','#0a0a0a');
  const b=mk('line',{x1:931,x2:1150.5,y1:820.8,y2:820.8,stroke:'#3a4a5a','stroke-width':1},g);
  
  
  pctAxis(g,922,820.5,11.25,'y-tick-label-i');
  const t1=mk('text',{x:990,y:826,'font-size':8,'text-anchor':'middle','font-family':'Liberation Sans'},g);t1.textContent='Control';
  
  
  const t2=mk('text',{x:1096,y:826,'font-size':8,'text-anchor':'middle','font-family':'Liberation Sans'},g);t2.textContent='Treat';
  
  
  cellLegend(g,1159,683,5.69);
})();
(function(){
  const g=G('pK');
  stacked(g,totalsK,1292,1489,820.5,11.77,50,'stacked-segment-k','#222');
  const b=mk('line',{x1:1292,x2:1489,y1:820.8,y2:820.8,stroke:'#3a4a5a','stroke-width':1},g);
  
  
  pctAxis(g,1283,820.5,11.77,'y-tick-label-k');
  const t1=mk('text',{x:1310,y:826,'font-size':8,'text-anchor':'middle','font-family':'Liberation Sans'},g);t1.textContent='Control';
  
  
  const t2=mk('text',{x:1408,y:826,'font-size':8,'text-anchor':'middle','font-family':'Liberation Sans'},g);t2.textContent='Treat';
  
  
  cellLegend(g,1497,682,5.71);
})();

function boxes(g,D,x0,spacing,yBase,axisY,name){
  const ys=v=>yBase-v*101;
  [[0,'0.00'],[0.25,'0.25'],[0.5,'0.50'],[0.75,'0.75'],[1,'1.00']].forEach(t=>{
    const l=mk('line',{x1:x0-14,x2:x0-11,y1:ys(t[0]),y2:ys(t[0]),stroke:'#000','stroke-width':0.5},g);
    
    
    const tx=mk('text',{x:x0-15,y:ys(t[0])+2,'text-anchor':'end','font-size':5.5},g);tx.textContent=t[1];
    
    
  });
  cellTypes.forEach((n,i)=>{
    const cx=x0+i*spacing;
    [[D.cq1,D.cm,D.cq3,-2.9,'#3674b5','control'],[D.tq1,D.tm,D.tq3,2.9,'#e5484d','treat']].forEach(s=>{
      const bx=cx+s[3];
      const w=mk('line',{x1:bx,x2:bx,y1:ys(D.hi[i]),y2:ys(D.lo[i]),stroke:'#111','stroke-width':0.45},g);
      
      
      const r=mk('rect',{x:bx-2.7,y:ys(s[2][i]),width:5.4,height:ys(s[0][i])-ys(s[2][i]),fill:s[4],stroke:'#111','stroke-width':0.45},g);
      
      
      const m=mk('line',{x1:bx-2.7,x2:bx+2.7,y1:ys(s[1][i]),y2:ys(s[1][i]),stroke:'#111','stroke-width':0.7},g);
      
      
    });
    const tk=mk('line',{x1:cx,x2:cx,y1:axisY,y2:axisY+3,stroke:'#000','stroke-width':0.5},g);
    
    
    const t=mk('text',{transform:'translate('+(cx+1.5)+','+(axisY+5)+') rotate(-55)','text-anchor':'end','font-size':5.6,'font-style':'italic','font-family':'Liberation Sans'},g);
    t.textContent=n;
    
    
    if(D.stars[i]){const st=mk('text',{x:cx,y:yBase-101-3,'text-anchor':'middle','font-size':5},g);st.textContent=D.stars[i];
      
      }
  });
}
boxes(G('pJ'),{cq1:boxJ_ctrl_q1,cm:boxJ_ctrl_med,cq3:boxJ_ctrl_q3,tq1:boxJ_treat_q1,tm:boxJ_treat_med,tq3:boxJ_treat_q3,lo:boxJ_lo,hi:boxJ_hi,stars:boxJ_stars},929.5,12.27,1028,1033,'j');
boxes(G('pL'),{cq1:boxL_ctrl_q1,cm:boxL_ctrl_med,cq3:boxL_ctrl_q3,tq1:boxL_treat_q1,tm:boxL_treat_med,tq3:boxL_treat_q3,lo:boxL_lo,hi:boxL_hi,stars:boxL_stars},1284.5,12.45,1031.5,1036,'l');
</script>
</body></html>
